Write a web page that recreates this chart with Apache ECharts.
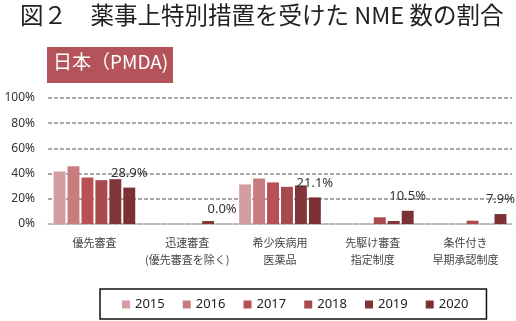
<!DOCTYPE html>
<html><head><meta charset="utf-8">
<script src="https://cdn.jsdelivr.net/npm/echarts@6/dist/echarts.min.js"></script>
<style>html,body{margin:0;padding:0;background:#fff}#c{width:516px;height:321px}</style>
</head><body><div id="c"></div>
<script>
const categories = ['優先審査', '迅速審査\n(優先審査を除く)', '希少疾病用\n医薬品', '先駆け審査\n指定制度', '条件付き\n早期承認制度'];
const years = ['2015', '2016', '2017', '2018', '2019', '2020'];
const v2015 = [41.7, null, 31.4, null, null];
const v2016 = [45.8, null, 36.1, null, null];
const v2017 = [36.9, null, 33.0, null, null];
const v2018 = [34.8, null, 29.5, 5.3, 2.6];
const v2019 = [35.6, 2.4, 30.6, 2.4, null];
const v2020 = [28.9, 0.0, 21.1, 10.5, 7.9];
const yTicks = [0, 20, 40, 60, 80, 100];
const colors = ['#d39ea2', '#c97c80', '#b85055', '#a84a4e', '#80363a', '#7a3034'];
const values = [v2015, v2016, v2017, v2018, v2019, v2020];

const chart = echarts.init(document.getElementById('c'), null, {renderer: 'canvas'});
const series = years.map((y, i) => ({
  name: y,
  type: 'bar',
  data: values[i],
  barGap: '17%',
  barCategoryGap: '12%',
  itemStyle: {color: colors[i]},
  label: i === 5 ? {
    show: true, position: 'top', distance: 8,
    fontSize: 13, color: '#333', fontFamily: 'Noto Sans',
    formatter: p => p.value.toFixed(1) + '%'
  } : {show: false}
}));
chart.setOption({
  animation: false,
  color: colors,
  graphic: [
    {type: 'text', left: 20, top: 3, style: {text: '図２　薬事上特別措置を受けた NME 数の割合', font: '23.5px "Noto Sans CJK JP"', fill: '#222'}},
    {type: 'rect', shape: {x: 47, y: 47, width: 126, height: 36}, style: {fill: '#b5535a'}},
    {type: 'text', left: 53, top: 52, style: {text: '日本（PMDA)', font: '19px "Noto Sans CJK JP"', fill: '#fff'}}
  ],
  grid: {left: 48, right: 4, top: 98, bottom: 97},
  legend: {
    data: years, left: 100, top: 289, width: 370,
    padding: [9, 18, 8, 22], itemGap: 18, itemWidth: 8, itemHeight: 8,
    icon: 'rect', borderColor: '#111', borderWidth: 1.5,
    textStyle: {fontSize: 13, color: '#222', fontFamily: 'Noto Sans'}
  },
  xAxis: {
    type: 'category', data: categories,
    axisLine: {lineStyle: {color: '#bfbfbf', width: 1.5}},
    axisTick: {show: false},
    axisLabel: {fontSize: 11, color: '#444', lineHeight: 17, margin: 10, fontFamily: 'Noto Sans CJK JP', interval: 0}
  },
  yAxis: {
    type: 'value', min: yTicks[0], max: yTicks[yTicks.length - 1], interval: 20,
    axisLine: {show: false}, axisTick: {show: false},
    axisLabel: {fontSize: 12, color: '#333', margin: 13, fontFamily: 'Noto Sans', formatter: v => v + '%'},
    splitLine: {lineStyle: {color: '#8a8a8a', type: [4, 2], width: 1.5}}
  },
  series: series
});
</script></body></html>
